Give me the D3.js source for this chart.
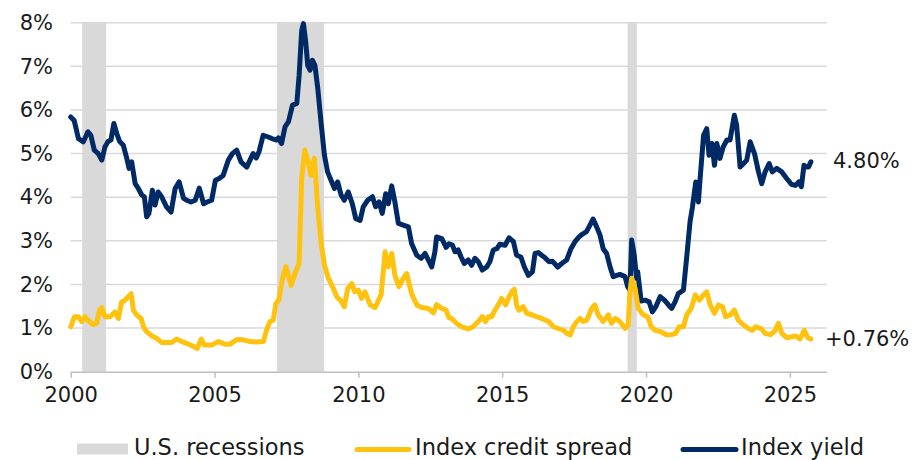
<!DOCTYPE html>
<html>
<head>
<meta charset="utf-8">
<script src="https://cdn.jsdelivr.net/npm/d3@7"></script>
<style>
  body { margin: 0; background: #fff; }
  text { font-family: "DejaVu Sans", sans-serif; fill: #1a1a1a; }
</style>
</head>
<body>
<svg id="chart" width="921" height="460"></svg>
<script>
// year (decimal) / percent
var yieldSeries = [
  [2000.0,5.84],[2000.12,5.76],[2000.27,5.34],[2000.44,5.27],[2000.6,5.50],[2000.7,5.42],[2000.82,5.08],[2000.96,5.00],
  [2001.08,4.85],[2001.19,5.15],[2001.3,5.28],[2001.4,5.31],[2001.5,5.69],[2001.6,5.46],[2001.7,5.28],[2001.83,5.19],[2001.95,4.89],
  [2002.03,4.66],[2002.12,4.81],[2002.24,4.31],[2002.35,4.20],[2002.47,4.05],[2002.56,4.01],[2002.64,3.55],[2002.72,3.63],[2002.84,4.16],[2002.93,3.82],
  [2003.04,4.12],[2003.16,4.01],[2003.33,3.78],[2003.49,3.66],[2003.63,4.20],[2003.77,4.35],[2003.92,3.98],
  [2004.03,3.93],[2004.18,3.89],[2004.33,3.93],[2004.47,4.21],[2004.62,3.85],[2004.74,3.89],[2004.9,3.93],
  [2005.03,4.39],[2005.16,4.43],[2005.3,4.50],[2005.48,4.85],[2005.62,5.00],[2005.77,5.08],[2005.92,4.81],
  [2006.12,4.69],[2006.34,5.00],[2006.45,4.90],[2006.55,5.05],[2006.69,5.42],[2006.87,5.38],
  [2007.05,5.33],[2007.16,5.31],[2007.22,5.36],[2007.33,5.23],[2007.45,5.61],[2007.57,5.73],[2007.71,6.11],[2007.86,6.15],[2007.94,6.79],
  [2008.03,7.82],[2008.09,7.98],[2008.17,7.56],[2008.24,7.02],[2008.32,6.91],[2008.4,7.14],[2008.49,7.02],[2008.59,6.49],[2008.7,5.73],[2008.82,4.96],[2008.93,4.58],
  [2009.05,4.39],[2009.17,4.20],[2009.28,4.35],[2009.4,4.05],[2009.51,3.93],[2009.65,4.12],[2009.79,3.85],[2009.91,3.51],
  [2010.06,3.47],[2010.17,3.78],[2010.32,3.93],[2010.49,4.01],[2010.6,3.78],[2010.72,3.89],[2010.83,3.63],[2010.95,4.08],
  [2011.04,3.85],[2011.16,4.26],[2011.27,3.89],[2011.39,3.40],[2011.56,3.36],[2011.74,3.32],[2011.85,2.94],
  [2012.03,2.67],[2012.18,2.60],[2012.32,2.71],[2012.55,2.40],[2012.66,2.75],[2012.72,3.09],[2012.9,3.05],
  [2013.05,2.85],[2013.15,2.93],[2013.27,2.90],[2013.36,2.75],[2013.47,2.79],[2013.57,2.63],[2013.68,2.48],[2013.82,2.56],[2013.94,2.44],
  [2014.05,2.60],[2014.17,2.52],[2014.31,2.33],[2014.46,2.40],[2014.57,2.52],[2014.69,2.79],[2014.81,2.82],[2014.92,2.92],
  [2015.1,2.90],[2015.24,3.07],[2015.39,2.98],[2015.5,2.67],[2015.65,2.63],[2015.77,2.40],[2015.91,2.21],
  [2016.05,2.29],[2016.14,2.71],[2016.26,2.73],[2016.37,2.67],[2016.49,2.61],[2016.63,2.52],[2016.75,2.53],[2016.93,2.40],
  [2017.07,2.48],[2017.24,2.56],[2017.39,2.82],[2017.53,2.98],[2017.67,3.09],[2017.78,3.15],[2017.93,3.21],
  [2018.05,3.36],[2018.16,3.50],[2018.28,3.32],[2018.4,3.13],[2018.51,2.82],[2018.63,2.71],[2018.75,2.40],[2018.86,2.18],[2018.98,2.21],
  [2019.09,2.23],[2019.27,2.18],[2019.36,1.95],[2019.44,1.87],[2019.5,3.02],[2019.59,2.67],[2019.67,2.14],[2019.71,2.29],[2019.83,1.62],[2019.97,1.64],
  [2020.11,1.60],[2020.22,1.37],[2020.34,1.49],[2020.49,1.72],[2020.64,1.64],[2020.78,1.53],[2020.89,1.45],
  [2021.01,1.60],[2021.12,1.79],[2021.3,1.87],[2021.41,2.60],[2021.53,3.44],[2021.61,3.76],[2021.73,4.35],[2021.82,3.89],[2021.88,4.43],
  [2022.0,5.42],[2022.11,5.57],[2022.19,4.96],[2022.29,5.23],[2022.38,4.73],[2022.46,5.23],[2022.57,4.89],[2022.68,5.15],[2022.81,5.31],[2022.92,5.31],
  [2023.07,5.88],[2023.15,5.65],[2023.27,4.69],[2023.39,4.77],[2023.5,4.85],[2023.62,5.27],[2023.77,5.00],[2023.91,4.58],
  [2024.02,4.31],[2024.14,4.58],[2024.28,4.77],[2024.39,4.58],[2024.54,4.66],[2024.72,4.58],[2024.89,4.43],
  [2025.06,4.29],[2025.2,4.27],[2025.31,4.35],[2025.4,4.24],[2025.49,4.73],[2025.57,4.69],[2025.65,4.69],[2025.73,4.81]
];

var spreadSeries = [
  [2000.0,1.03],[2000.13,1.26],[2000.27,1.26],[2000.38,1.15],[2000.5,1.26],[2000.64,1.15],[2000.79,1.08],[2000.9,1.11],
  [2001.0,1.41],[2001.08,1.47],[2001.19,1.26],[2001.37,1.26],[2001.54,1.37],[2001.66,1.22],[2001.77,1.60],[2001.89,1.64],
  [2002.0,1.72],[2002.1,1.79],[2002.18,1.41],[2002.29,1.30],[2002.45,1.22],[2002.53,1.03],[2002.64,0.92],[2002.82,0.82],
  [2003.0,0.76],[2003.16,0.67],[2003.33,0.67],[2003.51,0.67],[2003.68,0.75],[2003.86,0.69],
  [2004.03,0.65],[2004.2,0.60],[2004.4,0.53],[2004.54,0.75],[2004.64,0.61],[2004.9,0.61],
  [2005.13,0.69],[2005.37,0.63],[2005.54,0.63],[2005.77,0.74],[2006.0,0.73],[2006.24,0.69],[2006.46,0.68],[2006.7,0.69],[2006.81,0.96],[2006.93,1.15],
  [2007.04,1.18],[2007.13,1.55],[2007.24,1.66],[2007.36,2.14],[2007.48,2.41],[2007.66,1.98],[2007.82,2.29],[2007.94,2.48],
  [2008.03,4.43],[2008.14,5.08],[2008.26,4.81],[2008.35,4.50],[2008.47,4.89],[2008.59,3.74],[2008.7,2.98],[2008.82,2.44],[2008.96,2.14],
  [2009.13,1.91],[2009.25,1.72],[2009.4,1.62],[2009.51,1.49],[2009.63,1.91],[2009.77,2.02],[2009.88,1.83],
  [2010.0,1.87],[2010.11,1.68],[2010.23,1.83],[2010.41,1.53],[2010.58,1.47],[2010.79,1.76],[2010.93,2.75],
  [2011.04,2.40],[2011.16,2.71],[2011.27,2.21],[2011.41,1.95],[2011.56,2.14],[2011.68,2.25],[2011.85,1.79],
  [2012.03,1.53],[2012.2,1.47],[2012.43,1.45],[2012.61,1.35],[2012.72,1.54],[2012.9,1.45],
  [2013.04,1.42],[2013.15,1.24],[2013.24,1.22],[2013.41,1.11],[2013.59,1.03],[2013.82,0.98],[2013.99,1.03],
  [2014.17,1.15],[2014.31,1.26],[2014.42,1.15],[2014.52,1.26],[2014.63,1.26],[2014.75,1.41],[2014.86,1.53],[2014.98,1.68],
  [2015.12,1.53],[2015.24,1.72],[2015.33,1.83],[2015.42,1.89],[2015.5,1.53],[2015.58,1.41],[2015.73,1.49],[2015.85,1.34],
  [2016.05,1.30],[2016.2,1.26],[2016.37,1.22],[2016.61,1.15],[2016.78,1.03],[2016.95,0.99],
  [2017.13,0.95],[2017.24,0.88],[2017.36,0.84],[2017.47,1.03],[2017.59,1.15],[2017.71,1.22],[2017.82,1.15],[2017.94,1.18],
  [2018.11,1.45],[2018.22,1.53],[2018.34,1.30],[2018.51,1.15],[2018.69,1.30],[2018.8,1.11],[2018.94,1.22],
  [2019.09,1.15],[2019.27,0.99],[2019.38,1.07],[2019.44,1.83],[2019.5,2.14],[2019.62,1.90],[2019.73,1.45],[2019.91,1.30],
  [2020.06,1.26],[2020.18,1.03],[2020.32,0.95],[2020.49,0.92],[2020.72,0.84],[2020.89,0.85],
  [2021.03,0.88],[2021.15,1.03],[2021.3,1.03],[2021.41,1.30],[2021.57,1.45],[2021.71,1.76],[2021.85,1.64],
  [2022.0,1.76],[2022.11,1.83],[2022.23,1.53],[2022.38,1.34],[2022.52,1.53],[2022.66,1.49],[2022.77,1.26],[2022.92,1.30],
  [2023.07,1.41],[2023.21,1.18],[2023.39,1.07],[2023.56,0.99],[2023.7,0.95],[2023.81,1.03],
  [2024.0,0.99],[2024.14,0.88],[2024.32,0.85],[2024.47,0.92],[2024.6,1.11],[2024.72,0.88],[2024.89,0.78],
  [2025.06,0.80],[2025.2,0.82],[2025.35,0.75],[2025.5,0.95],[2025.62,0.78],[2025.73,0.75]
];

// shaded periods as drawn on the chart (start, end)
var recessions = [[2000.40, 2001.23], [2007.17, 2008.81], [2019.36, 2019.68]];

var yTicks = [0, 1, 2, 3, 4, 5, 6, 7, 8];
var xTicks = [2000, 2005, 2010, 2015, 2020, 2025];
var endLabels = ["4.80%", "+0.76%"];
var legendLabels = ["U.S. recessions", "Index credit spread", "Index yield"];

var navy = "#002a66", gold = "#ffc20e", shade = "#d9d9d9";

var svg = d3.select("#chart");

var x = d3.scaleLinear().domain([2000, 2026.28]).range([70.7, 826.7]);
var y = d3.scaleLinear().domain([0, 8]).range([371.7, 22.7]);

// gridlines
svg.append("g")
  .selectAll("line")
  .data(yTicks.filter(function (d) { return d > 0; }))
  .enter().append("line")
  .attr("x1", x.range()[0]).attr("x2", x.range()[1])
  .attr("y1", function (d) { return y(d); })
  .attr("y2", function (d) { return y(d); })
  .style("stroke", "#d9d9d9")
  .style("stroke-width", 1.5);

// recession bands
svg.append("g")
  .selectAll("rect")
  .data(recessions)
  .enter().append("rect")
  .attr("x", function (d) { return x(d[0]); })
  .attr("width", function (d) { return x(d[1]) - x(d[0]); })
  .attr("y", y(8))
  .attr("height", y(0) - y(8))
  .style("fill", shade);

// x axis
var xAxis = svg.append("g")
  .attr("transform", "translate(0," + y(0) + ")")
  .call(d3.axisBottom(x).tickValues(xTicks).tickFormat(d3.format("d")).tickSizeInner(6).tickSizeOuter(0).tickPadding(9));
xAxis.select(".domain").style("stroke", "#bfbfbf").style("stroke-width", 1.5);
xAxis.selectAll(".tick line").style("stroke", "#bfbfbf").style("stroke-width", 1.5);
xAxis.selectAll(".tick text")
  .style("font-family", "DejaVu Sans")
  .style("font-size", "21px")
  .style("fill", "#1a1a1a");

// y axis labels
var yAxis = svg.append("g")
  .attr("transform", "translate(53,0)")
  .call(d3.axisLeft(y).tickValues(yTicks).tickFormat(function (d) { return d + "%"; }).tickSize(0).tickPadding(0));
yAxis.select(".domain").remove();
yAxis.selectAll(".tick text")
  .style("font-family", "DejaVu Sans")
  .style("font-size", "21px")
  .style("fill", "#1a1a1a");

// lines
var line = d3.line()
  .x(function (d) { return x(d[0]); })
  .y(function (d) { return y(d[1]); })
  .curve(d3.curveLinear);

svg.append("path")
  .datum(yieldSeries)
  .attr("d", line)
  .style("fill", "none")
  .style("stroke", navy)
  .style("stroke-width", 5)
  .style("stroke-linejoin", "round")
  .style("stroke-linecap", "round");

svg.append("path")
  .datum(spreadSeries)
  .attr("d", line)
  .style("fill", "none")
  .style("stroke", gold)
  .style("stroke-width", 5)
  .style("stroke-linejoin", "round")
  .style("stroke-linecap", "round");

// end labels
var lastYield = yieldSeries[yieldSeries.length - 1];
var lastSpread = spreadSeries[spreadSeries.length - 1];
svg.append("text")
  .attr("x", 833)
  .attr("y", y(lastYield[1]) + 6)
  .style("font-size", "21px")
  .text(endLabels[0]);
svg.append("text")
  .attr("x", 825)
  .attr("y", y(lastSpread[1]) + 7)
  .style("font-size", "21px")
  .text(endLabels[1]);

// legend
var legend = svg.append("g");
legend.append("rect")
  .attr("x", 77).attr("y", 443.5).attr("width", 51).attr("height", 11)
  .style("fill", shade);
legend.append("text").attr("x", 134).attr("y", 455).style("font-size", "22.5px").text(legendLabels[0]);

legend.append("line")
  .attr("x1", 357).attr("x2", 409).attr("y1", 449.5).attr("y2", 449.5)
  .style("stroke", gold).style("stroke-width", 5).style("stroke-linecap", "round");
legend.append("text").attr("x", 415).attr("y", 455).style("font-size", "22.5px").text(legendLabels[1]);

legend.append("line")
  .attr("x1", 683).attr("x2", 736).attr("y1", 449.5).attr("y2", 449.5)
  .style("stroke", navy).style("stroke-width", 5).style("stroke-linecap", "round");
legend.append("text").attr("x", 741).attr("y", 455).style("font-size", "22.5px").text(legendLabels[2]);
</script>
</body>
</html>
